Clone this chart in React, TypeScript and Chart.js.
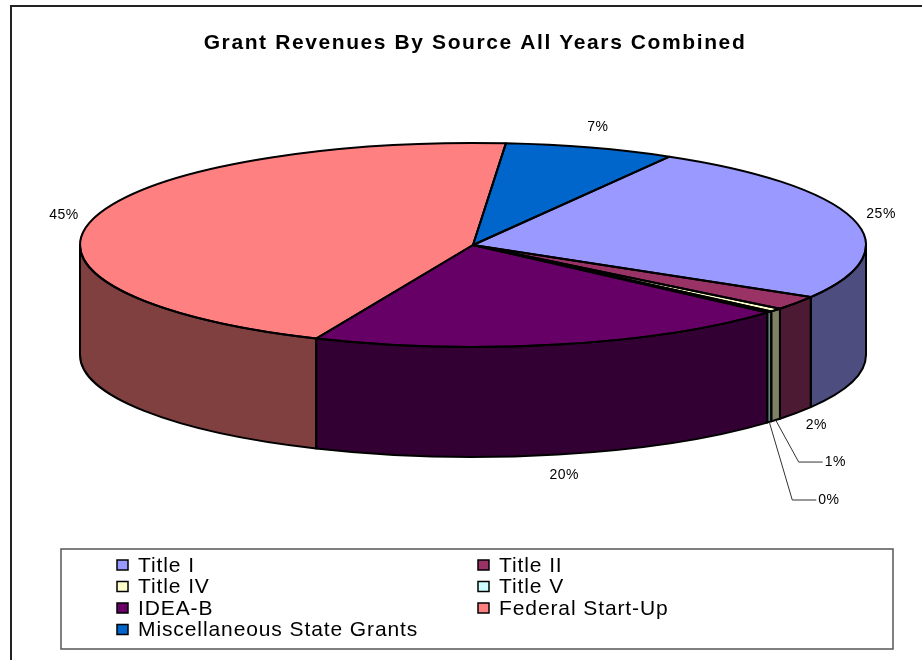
import React, { useEffect, useRef } from "react";
import { Chart, registerables } from "chart.js";

Chart.register(...registerables);

// ---- data ----
const CHART_TITLE = "Grant Revenues By Source All Years Combined";
const SOURCES = [
  "Title I",
  "Title II",
  "Title IV",
  "Title V",
  "IDEA-B",
  "Federal Start-Up",
  "Miscellaneous State Grants",
];
const SHARES = [25.2, 2.2, 0.55, 0.25, 20.0, 44.8, 7.0];
const COLORS = ["#9999FF", "#993366", "#FFFFCC", "#CCFFFF", "#660066", "#FF8080", "#0066CC"];
const START_ROTATION = 30;

// ---- layout ----
const W = 922;
const H = 660;
const G = { cx: 473, cy: 245, rx: 393, ry: 102, depth: 110 };
const FONT = '"Liberation Sans", Arial, sans-serif';

function darken(hex: string): string {
  const n = parseInt(hex.slice(1), 16);
  const r = (n >> 16) & 255, g = (n >> 8) & 255, b = n & 255;
  return `rgb(${Math.round(r / 2)},${Math.round(g / 2)},${Math.round(b / 2)})`;
}

function frontSegments(s: number, e: number): [number, number][] {
  const out: [number, number][] = [];
  const P = Math.PI;
  for (const base of [-2 * P, 0, 2 * P]) {
    const a0 = Math.max(s, base);
    const a1 = Math.min(e, base + P);
    if (a1 > a0) out.push([a0, a1]);
  }
  return out;
}

function wallPath(ctx: CanvasRenderingContext2D, a0: number, a1: number) {
  ctx.beginPath();
  ctx.ellipse(G.cx, G.cy, G.rx, G.ry, 0, a0, a1, false);
  ctx.ellipse(G.cx, G.cy + G.depth, G.rx, G.ry, 0, a1, a0, true);
  ctx.closePath();
}

const pie3d = {
  id: "pie3d",
  beforeDraw(chart: any) {
    const ctx: CanvasRenderingContext2D = chart.ctx;
    ctx.save();
    ctx.fillStyle = "#fff";
    ctx.fillRect(0, 0, W, H);
    ctx.strokeStyle = "#222";
    ctx.lineWidth = 2;
    ctx.beginPath();
    ctx.moveTo(11, H + 2);
    ctx.lineTo(11, 6);
    ctx.lineTo(W + 2, 6);
    ctx.stroke();
    ctx.restore();
  },
  beforeDatasetsDraw(chart: any) {
    const ctx: CanvasRenderingContext2D = chart.ctx;
    const meta = chart.getDatasetMeta(0);
    // side walls
    meta.data.forEach((el: any, i: number) => {
      for (const [a0, a1] of frontSegments(el.startAngle, el.endAngle)) {
        ctx.save();
        ctx.fillStyle = darken(COLORS[i]);
        wallPath(ctx, a0, a1);
        ctx.fill();
        ctx.restore();
      }
    });
    // squash the library-drawn pie into the ellipse of the top face
    const el0 = meta.data[0];
    const r0 = el0.outerRadius;
    ctx.save();
    ctx.translate(G.cx, G.cy);
    ctx.scale(G.rx / r0, G.ry / r0);
    ctx.translate(-el0.x, -el0.y);
  },
  afterDatasetsDraw(chart: any) {
    const ctx: CanvasRenderingContext2D = chart.ctx;
    ctx.restore();
    const meta = chart.getDatasetMeta(0);
    const total = SHARES.reduce((a, b) => a + b, 0);

    // outlines
    ctx.save();
    ctx.strokeStyle = "#000";
    ctx.lineWidth = 2;
    ctx.lineJoin = "round";
    meta.data.forEach((el: any) => {
      for (const [a0, a1] of frontSegments(el.startAngle, el.endAngle)) {
        wallPath(ctx, a0, a1);
        ctx.stroke();
      }
    });
    meta.data.forEach((el: any) => {
      ctx.beginPath();
      ctx.moveTo(G.cx, G.cy);
      ctx.ellipse(G.cx, G.cy, G.rx, G.ry, 0, el.startAngle, el.endAngle, false);
      ctx.closePath();
      ctx.stroke();
    });
    ctx.restore();

    // percentage labels
    ctx.save();
    ctx.font = `14px ${FONT}`;
    (ctx as any).letterSpacing = "0.5px";
    ctx.fillStyle = "#000";
    ctx.textBaseline = "middle";
    let tiny = 0;
    meta.data.forEach((el: any, i: number) => {
      const txt = `${Math.round((SHARES[i] / total) * 100)}%`;
      const mid = (el.startAngle + el.endAngle) / 2;
      const dx = Math.cos(mid);
      const dy = Math.sin(mid);
      const ax = G.cx + G.rx * dx;
      const ay = G.cy + G.ry * dy + (dy > 0 ? G.depth : 0);
      if (SHARES[i] / total < 0.01) {
        const ex = ax + 23;
        const ey = ay + 42 + 36 * tiny;
        ctx.save();
        ctx.strokeStyle = "#333";
        ctx.lineWidth = 1;
        ctx.beginPath();
        ctx.moveTo(ax, ay);
        ctx.lineTo(ex, ey);
        ctx.lineTo(ex + 24, ey);
        ctx.stroke();
        ctx.restore();
        ctx.textAlign = "left";
        ctx.fillText(txt, ex + 26, ey);
        tiny++;
      } else {
        const hw = ctx.measureText(txt).width / 2;
        const x = ax + dx * (14 + hw);
        const y = ay + dy * 21;
        ctx.textAlign = "center";
        ctx.fillText(txt, x, y);
      }
    });
    ctx.restore();
  },
  afterDraw(chart: any) {
    const ctx: CanvasRenderingContext2D = chart.ctx;
    // title
    ctx.save();
    ctx.font = `bold 21px ${FONT}`;
    (ctx as any).letterSpacing = "1.6px";
    ctx.fillStyle = "#000";
    ctx.textAlign = "center";
    ctx.textBaseline = "middle";
    ctx.fillText(CHART_TITLE, 475, 43);
    ctx.restore();

    // legend
    ctx.save();
    ctx.strokeStyle = "#555";
    ctx.lineWidth = 1.5;
    ctx.strokeRect(61, 549, 832, 100);
    ctx.font = `21px ${FONT}`;
    (ctx as any).letterSpacing = "0.9px";
    ctx.textBaseline = "middle";
    ctx.textAlign = "left";
    const colSw = [117, 478];
    SOURCES.forEach((name, i) => {
      const col = i % 2;
      const row = Math.floor(i / 2);
      const yc = 565 + row * 21.5;
      const sx = colSw[col];
      ctx.fillStyle = COLORS[i];
      ctx.fillRect(sx, yc - 5, 11, 10);
      ctx.strokeStyle = "#000";
      ctx.lineWidth = 1.5;
      ctx.strokeRect(sx, yc - 5, 11, 10);
      ctx.fillStyle = "#000";
      ctx.fillText(name, sx + 21, yc + 1);
    });
    ctx.restore();
  },
};

export default function App() {
  const ref = useRef<HTMLCanvasElement | null>(null);
  useEffect(() => {
    if (!ref.current) return;
    const chart = new Chart(ref.current, {
      type: "pie",
      data: {
        labels: SOURCES,
        datasets: [
          {
            data: SHARES,
            backgroundColor: COLORS,
            borderColor: COLORS,
            borderWidth: 1,
            clip: false as any,
          },
        ],
      },
      options: {
        responsive: false,
        maintainAspectRatio: false,
        animation: false,
        events: [],
        rotation: START_ROTATION,
        layout: { padding: { top: 100, bottom: 150, left: 100, right: 100 } },
        plugins: {
          legend: { display: false },
          title: { display: false },
          tooltip: { enabled: false },
        },
      },
      plugins: [pie3d as any],
    });
    return () => chart.destroy();
  }, []);
  return (
    <div style={{ position: "fixed", left: 0, top: 0, width: W, height: H, background: "#fff" }}>
      <canvas ref={ref} width={W} height={H} style={{ width: W, height: H, display: "block" }} />
    </div>
  );
}
